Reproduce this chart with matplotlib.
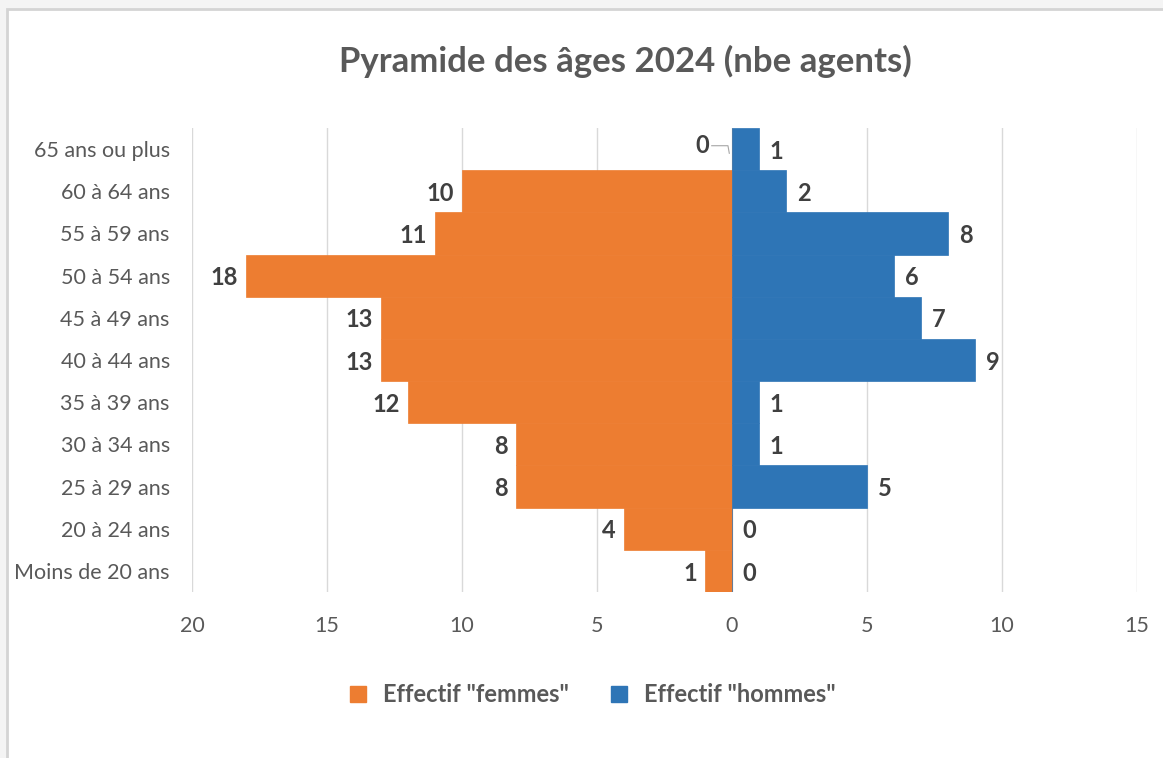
import matplotlib.pyplot as plt
from matplotlib.patches import Rectangle
from matplotlib.lines import Line2D

plt.rcParams['font.family'] = ['Lato', 'DejaVu Sans']

ages = ["Moins de 20 ans", "20 à 24 ans", "25 à 29 ans", "30 à 34 ans", "35 à 39 ans",
        "40 à 44 ans", "45 à 49 ans", "50 à 54 ans", "55 à 59 ans", "60 à 64 ans",
        "65 ans ou plus"]
femmes = [1, 4, 8, 8, 12, 13, 13, 18, 11, 10, 0]
hommes = [0, 0, 5, 1, 1, 9, 7, 6, 8, 2, 1]
xticks = [-20, -15, -10, -5, 0, 5, 10, 15]

orange = "#ED7D31"
blue = "#2E75B6"
grey = "#595959"
dark = "#404040"

fig = plt.figure(figsize=(11.63, 7.58), dpi=100)

# outer frame of the chart object
fig.patches.append(Rectangle((0, 0), 1, 1, transform=fig.transFigure,
                             facecolor="#F4F4F4", edgecolor="none", zorder=-3))
fig.patches.append(Rectangle((7/1163, -0.05), 1.1, 1 - 9/758 + 0.05,
                             transform=fig.transFigure, facecolor="white",
                             edgecolor="#D4D4D4", lw=2, zorder=-2))

ax = fig.add_axes([192/1163, 1 - 592/758, 945/1163, 464/758])
y = list(range(len(ages)))
ax.barh(y, [-v for v in femmes], height=1.0, color=orange, edgecolor=orange,
        lw=0.5, label='Effectif "femmes"', zorder=2)
ax.barh(y, hommes, height=1.0, color=blue, edgecolor=blue,
        lw=0.5, label='Effectif "hommes"', zorder=2)

ax.set_xlim(-20, 15)
ax.set_ylim(-0.5, len(ages) - 0.5)
ax.set_xticks(xticks)
ax.set_xticklabels([str(abs(t)) for t in xticks])
ax.set_yticks(y)
ax.set_yticklabels(ages)
ax.tick_params(axis="both", length=0, labelsize=15.5, colors=grey)
ax.tick_params(axis="x", pad=17)
ax.tick_params(axis="y", pad=16)
ax.grid(axis="x", color="#D9D9D9", lw=1, zorder=0)
for s in ax.spines.values():
    s.set_visible(False)

# value labels
for i, (f, h) in enumerate(zip(femmes, hommes)):
    if f == 0:
        ax.text(-0.85, i + 0.08, str(f), ha="right", va="center", fontsize=17,
                fontweight="bold", color=dark)
        ax.plot([-0.75, -0.15, -0.1], [i + 0.08, i + 0.08, i - 0.1],
                color="#A6A6A6", lw=0.8, zorder=3)
    else:
        ax.text(-f - 0.3, i - 0.05, str(f), ha="right", va="center", fontsize=17,
                fontweight="bold", color=dark)
    ax.text(h + 0.4, i - 0.05, str(h), ha="left", va="center", fontsize=17,
            fontweight="bold", color=dark)

fig.text(625/1163, 1 - 61/758, "Pyramide des âges 2024 (nbe agents)",
         ha="center", va="center", fontsize=25, fontweight="bold", color=grey)

handles = [Line2D([], [], marker="s", ls="", markersize=12, color=orange),
           Line2D([], [], marker="s", ls="", markersize=12, color=blue)]
fig.legend(handles, ['Effectif "femmes"', 'Effectif "hommes"'],
           loc="center", bbox_to_anchor=(585/1163, 1 - 695/758), ncol=2,
           frameon=False, prop={"size": 17, "weight": "bold"},
           labelcolor=grey, handletextpad=0.05, columnspacing=1.1)

fig.savefig("out.png", dpi=100)
